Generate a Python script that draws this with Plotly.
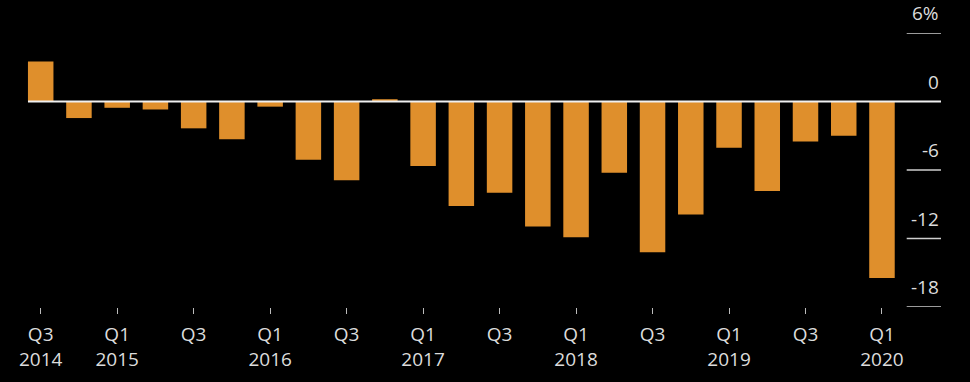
import plotly.graph_objects as go

quarters = ["Q3", "Q4", "Q1", "Q2", "Q3", "Q4", "Q1", "Q2", "Q3", "Q4", "Q1", "Q2",
            "Q3", "Q4", "Q1", "Q2", "Q3", "Q4", "Q1", "Q2", "Q3", "Q4", "Q1"]
years = [2014, 2014, 2015, 2015, 2015, 2015, 2016, 2016, 2016, 2016, 2017, 2017,
         2017, 2017, 2018, 2018, 2018, 2018, 2019, 2019, 2019, 2019, 2020]
values = [3.5, -1.45, -0.55, -0.7, -2.35, -3.3, -0.45, -5.1, -6.9, 0.2, -5.65, -9.15,
          -8.0, -10.95, -11.9, -6.25, -13.2, -9.9, -4.05, -7.85, -3.5, -3.0, -15.45]
y_ticks = [6, 0, -6, -12, -18]
y_tick_text = ["6%", "0", "-6", "-12", "-18"]

x = list(range(len(values)))
tickvals, ticktext = [], []
for i, (q, yr) in enumerate(zip(quarters, years)):
    if i % 2 == 0:
        tickvals.append(i)
        if i == 0 or q == "Q1":
            ticktext.append(f"{q}<br>{yr}")
        else:
            ticktext.append(q)

W, H = 970, 382
ml, mr, mt, mb = 0, 29, 33, 75
pw = W - ml - mr
px_per_unit = 38.24
x0_center = 40.7
xr = [-x0_center / px_per_unit, (pw - x0_center) / px_per_unit]

BAR = "#DF8F2C"
TXT = "#dcdcdc"
FONT = "Open Sans"

fig = go.Figure(go.Bar(x=x, y=values, marker=dict(color=BAR, line=dict(width=0)),
                       width=0.667, hoverinfo="skip"))

shapes = []
# zero line
shapes.append(dict(type="line", xref="x", yref="y", x0=-0.333, x1=xr[1], y0=0, y1=0,
                   line=dict(color="#f0f0f0", width=2), layer="above"))
annotations = []
grid_x0 = (906.7 - ml) / pw
for v, t in zip(y_ticks, y_tick_text):
    if v != 0:
        shapes.append(dict(type="line", xref="paper", yref="y", x0=grid_x0, x1=1, y0=v, y1=v,
                           line=dict(color="#cfcfcf", width=1.5), layer="above"))
    annotations.append(dict(xref="paper", yref="y", x=1, y=v, text=t, showarrow=False,
                            xanchor="right", yanchor="bottom", yshift=5,
                            font=dict(family=FONT, size=19, color=TXT)))

fig.update_layout(
    width=W, height=H,
    margin=dict(l=ml, r=mr, t=mt, b=mb),
    paper_bgcolor="black", plot_bgcolor="black",
    showlegend=False, bargap=0.33,
    shapes=shapes, annotations=annotations,
    xaxis=dict(range=xr, tickvals=tickvals, ticktext=ticktext, ticks="outside",
               ticklen=6, tickwidth=1, tickcolor="#bbbbbb", showgrid=False,
               zeroline=False, showline=False, ticklabelstandoff=4,
               tickfont=dict(family=FONT, size=19, color=TXT)),
    yaxis=dict(range=[-18, 6], showgrid=False, zeroline=False, showticklabels=False,
               showline=False),
)

fig.write_html("out.html",
               config={"displayModeBar": False},
               post_script="document.body.style.margin='0';"
                           "document.body.style.background='black';"
                           "document.body.style.overflow='hidden';")
